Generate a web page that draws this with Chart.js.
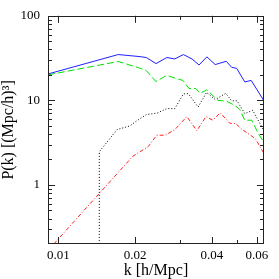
<!DOCTYPE html>
<html>
<head>
<meta charset="utf-8">
<script src="https://cdn.jsdelivr.net/npm/chart.js@4/dist/chart.umd.min.js"></script>
<style>
html,body{margin:0;padding:0;background:#fff;}
#wrap{width:279px;height:279px;}
</style>
</head>
<body>
<div id="wrap"><canvas id="c" width="279" height="279"></canvas></div>
<script>
// ---- data ----
const blueK  = [0.0091,0.01715,0.0209,0.0221,0.02415,0.0266,0.0286,0.0309,0.0334,0.0356,0.0382,0.0412,0.0455,0.0478,0.0500,0.0538,0.0570,0.0638];
const blueP  = [20.5,34.8,32.9,32.1,27.2,32.1,30.9,34.8,30.9,26.2,32.7,26.5,29.0,24.6,23.9,16.5,17.2,10.0];

const greenK = [0.0091,0.01715,0.0209,0.0221,0.0241,0.0266,0.0289,0.0308,0.0325,0.0346,0.0359,0.0382,0.0422,0.0457,0.0491,0.0514,0.0538,0.0573,0.0604,0.0638];
const greenP = [20.0,28.8,24.0,22.5,16.7,19.7,18.2,17.2,13.8,13.8,12.1,13.3,10.0,9.76,8.73,7.84,5.82,5.82,4.20,3.21];

const blackK = [0.01446,0.01446,0.0170,0.0191,0.0200,0.0221,0.0244,0.0266,0.0286,0.0309,0.0323,0.0353,0.0381,0.0412,0.0453,0.0478,0.0502,0.0538,0.0578,0.0638];
const blackP = [0.05,2.47,4.52,4.99,5.56,6.79,7.07,7.99,7.99,11.9,12.0,8.34,12.4,10.2,12.1,9.87,9.87,6.97,7.63,4.44];

const redK   = [0.0091,0.0196,0.0225,0.0243,0.0262,0.0286,0.0319,0.0349,0.0379,0.0403,0.0431,0.0470,0.0496,0.0523,0.0563,0.0594,0.0615,0.0638];
const redP   = [0.168,2.19,2.84,3.87,3.87,4.50,6.43,4.38,6.43,5.82,7.13,5.36,5.32,4.56,3.93,3.48,2.88,2.38];

const xMajor = [0.01,0.02,0.04,0.06];
const xMajorLabels = ['0.01','0.02','0.04','0.06'];
const xMinor = [0.03,0.05];
const yMajor = [1,10,100];
const yMajorLabels = ['1','10','100'];
const yMinor = [0.3,0.4,0.5,0.6,0.7,0.8,0.9,2,3,4,5,6,7,8,9,20,30,40,50,60,70,80,90];

const xTitle = 'k [h/Mpc]';
const yTitle = 'P(k) [(Mpc/h)\u00B3]';

const pts = (ks, ps) => ks.map((k, i) => ({x: k, y: ps[i]}));

const FONT = 'Liberation Serif';

const frameTicks = {
  id: 'frameTicks',
  afterDatasetsDraw(chart) {
    const {ctx, chartArea: a, scales: {x, y}} = chart;
    ctx.save();
    ctx.strokeStyle = '#222';
    ctx.lineWidth = 1;
    ctx.strokeRect(Math.round(a.left) + 0.5, Math.round(a.top) + 0.5,
                   Math.round(a.right - a.left) - 1, Math.round(a.bottom - a.top) - 1);
    ctx.beginPath();
    const tickX = (v, len) => {
      const px = Math.round(x.getPixelForValue(v)) + 0.5;
      ctx.moveTo(px, a.bottom); ctx.lineTo(px, a.bottom - len);
      ctx.moveTo(px, a.top); ctx.lineTo(px, a.top + len);
    };
    const tickY = (v, len) => {
      const py = Math.round(y.getPixelForValue(v)) + 0.5;
      ctx.moveTo(a.left, py); ctx.lineTo(a.left + len, py);
      ctx.moveTo(a.right, py); ctx.lineTo(a.right - len, py);
    };
    xMajor.forEach(v => tickX(v, 7));
    xMinor.forEach(v => tickX(v, 4));
    yMajor.forEach(v => tickY(v, 7));
    yMinor.forEach(v => tickY(v, 4));
    ctx.stroke();
    ctx.restore();
  }
};

new Chart(document.getElementById('c'), {
  type: 'line',
  data: {
    datasets: [
      {data: pts(blueK, blueP), borderColor: '#2020ff', borderWidth: 1},
      {data: pts(greenK, greenP), borderColor: '#00e000', borderWidth: 1, borderDash: [7, 3]},
      {data: pts(blackK, blackP), borderColor: '#000', borderWidth: 1, borderDash: [1, 2]},
      {data: pts(redK, redP), borderColor: '#ff2020', borderWidth: 1, borderDash: [4, 2, 1, 2]}
    ]
  },
  options: {
    responsive: false,
    animation: false,
    devicePixelRatio: 1,
    layout: {padding: {top: 15, right: 15, left: 0, bottom: 0}},
    plugins: {legend: {display: false}, tooltip: {enabled: false}},
    elements: {point: {radius: 0}, line: {tension: 0, fill: false}},
    scales: {
      x: {
        type: 'logarithmic', min: 0.0091, max: 0.064,
        grid: {display: false, drawTicks: false, tickLength: 0},
        border: {display: false},
        afterBuildTicks: s => { s.ticks = xMajor.map(v => ({value: v})); },
        afterFit: s => { s.height = 35; },
        ticks: {
          autoSkip: false, maxRotation: 0, padding: 4, color: '#000',
          font: {family: FONT, size: 13},
          callback: v => { const i = xMajor.indexOf(v); return i >= 0 ? xMajorLabels[i] : ''; }
        },
        title: {display: true, text: xTitle, color: '#000', font: {family: FONT, size: 16}, padding: {top: 0, bottom: -1}}
      },
      y: {
        type: 'logarithmic', min: 0.2, max: 100,
        grid: {display: false, drawTicks: false, tickLength: 0},
        border: {display: false},
        afterBuildTicks: s => { s.ticks = yMajor.map(v => ({value: v})); },
        afterFit: s => { s.width = 48; },
        ticks: {
          autoSkip: false, padding: 8, color: '#000',
          font: {family: FONT, size: 13},
          callback: v => { const i = yMajor.indexOf(v); return i >= 0 ? yMajorLabels[i] : ''; }
        },
        title: {display: true, text: yTitle, color: '#000', font: {family: FONT, size: 16}, padding: {top: -1, bottom: 0}}
      }
    }
  },
  plugins: [frameTicks]
});
</script>
</body>
</html>
